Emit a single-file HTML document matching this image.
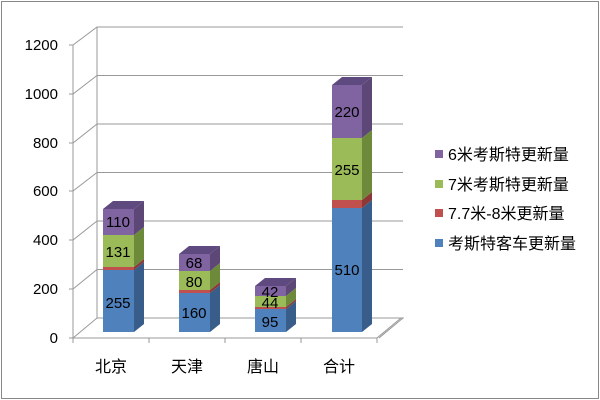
<!DOCTYPE html>
<html><head><meta charset="utf-8"><style>
body{margin:0;background:#fff}
svg{display:block;font-family:"Liberation Sans","Noto Sans CJK SC",sans-serif}
</style></head><body>
<svg width="600" height="400" viewBox="0 0 600 400">
<rect x="1.5" y="1.5" width="597" height="397" fill="#fff" stroke="#888" stroke-width="1"/>
<g stroke="#999" stroke-width="1" fill="none">
<line x1="97" y1="27" x2="97" y2="318"/>
<line x1="73" y1="45" x2="73" y2="338"/>
<path d="M97 318 H403 L379 338"/>
<path d="M73 338 H377 L401 318"/>
<path d="M69 45 L73 45 L97 27 H403"/>
<path d="M69 94 L73 94 L97 75.5 H403"/>
<path d="M69 143 L73 143 L97 124 H403"/>
<path d="M69 191 L73 191 L97 172.5 H403"/>
<path d="M69 240 L73 240 L97 221 H403"/>
<path d="M69 289 L73 289 L97 269.5 H403"/>
<path d="M69 338 L73 338 L97 318"/>
<line x1="149" y1="338" x2="149" y2="343"/>
<line x1="225" y1="338" x2="225" y2="343"/>
<line x1="301" y1="338" x2="301" y2="343"/>
<line x1="377" y1="338" x2="377" y2="343"/>
<line x1="73" y1="338" x2="73" y2="343"/>
</g>
<g font-size="15" fill="#000" text-anchor="end">
<text x="58" y="50">1200</text><text x="58" y="99">1000</text><text x="58" y="148">800</text>
<text x="58" y="196">600</text><text x="58" y="245">400</text><text x="58" y="294">200</text><text x="58" y="343">0</text>
</g>
<g font-size="16" text-anchor="middle">
<text x="111" y="372">北京</text><text x="187" y="372">天津</text><text x="263" y="372">唐山</text><text x="339" y="372">合计</text>
</g>
<g>
<g>
<rect x="103" y="270" width="31" height="62" fill="#4F81BD"/><polygon points="134,270 144,262 144,324 134,332" fill="#385D8A"/>
<rect x="103" y="267" width="31" height="3" fill="#C0504D"/><polygon points="134,267 144,259 144,262 134,270" fill="#8C3836"/>
<rect x="103" y="235" width="31" height="32" fill="#9BBB59"/><polygon points="134,235 144,227 144,259 134,267" fill="#6C8A3A"/>
<rect x="103" y="209" width="31" height="26" fill="#8064A2"/><polygon points="134,209 144,201 144,227 134,235" fill="#5C4776"/>
<polygon points="103,209 113,201 144,201 134,209" fill="#5E4A7E"/>
</g>
<g>
<rect x="179" y="293" width="31" height="39" fill="#4F81BD"/><polygon points="210,293 220,285 220,324 210,332" fill="#385D8A"/>
<rect x="179" y="290" width="31" height="3" fill="#C0504D"/><polygon points="210,290 220,282 220,285 210,293" fill="#8C3836"/>
<rect x="179" y="271" width="31" height="19" fill="#9BBB59"/><polygon points="210,271 220,263 220,282 210,290" fill="#6C8A3A"/>
<rect x="179" y="254" width="31" height="17" fill="#8064A2"/><polygon points="210,254 220,246 220,263 210,271" fill="#5C4776"/>
<polygon points="179,254 189,246 220,246 210,254" fill="#5E4A7E"/>
</g>
<g>
<rect x="255" y="309" width="31" height="23" fill="#4F81BD"/><polygon points="286,309 296,301 296,324 286,332" fill="#385D8A"/>
<rect x="255" y="307" width="31" height="2" fill="#C0504D"/><polygon points="286,307 296,299 296,301 286,309" fill="#8C3836"/>
<rect x="255" y="296" width="31" height="11" fill="#9BBB59"/><polygon points="286,296 296,288 296,299 286,307" fill="#6C8A3A"/>
<rect x="255" y="286" width="31" height="10" fill="#8064A2"/><polygon points="286,286 296,278 296,288 286,296" fill="#5C4776"/>
<polygon points="255,286 265,278 296,278 286,286" fill="#5E4A7E"/>
</g>
<g>
<rect x="332" y="208" width="30" height="124" fill="#4F81BD"/><polygon points="362,208 372,200 372,324 362,332" fill="#385D8A"/>
<rect x="332" y="200" width="30" height="8" fill="#C0504D"/><polygon points="362,200 372,192 372,200 362,208" fill="#8C3836"/>
<rect x="332" y="138" width="30" height="62" fill="#9BBB59"/><polygon points="362,138 372,130 372,192 362,200" fill="#6C8A3A"/>
<rect x="332" y="85" width="30" height="53" fill="#8064A2"/><polygon points="362,85 372,77 372,130 362,138" fill="#5C4776"/>
<polygon points="332,85 342,77 372,77 362,85" fill="#5E4A7E"/>
</g>
</g>
<g font-size="15" text-anchor="middle" fill="#000">
<text x="118" y="308">255</text><text x="118" y="257">131</text><text x="118" y="227">110</text>
<text x="194" y="318">160</text><text x="194" y="287">80</text><text x="194" y="268">68</text>
<text x="270" y="327">95</text><text x="270" y="308">44</text><text x="270" y="297">42</text>
<text x="347" y="275">510</text><text x="347" y="175">255</text><text x="347" y="117">220</text>
</g>
<g font-size="16" fill="#000">
<rect x="435" y="150" width="8" height="8" fill="#8064A2"/><text x="448" y="160">6米考斯特更新量</text>
<rect x="435" y="180" width="8" height="8" fill="#9BBB59"/><text x="448" y="190">7米考斯特更新量</text>
<rect x="435" y="209" width="8" height="8" fill="#C0504D"/><text x="448" y="219">7.7米-8米更新量</text>
<rect x="435" y="239" width="8" height="8" fill="#4F81BD"/><text x="448" y="249">考斯特客车更新量</text>
</g>
</svg>
</body></html>
